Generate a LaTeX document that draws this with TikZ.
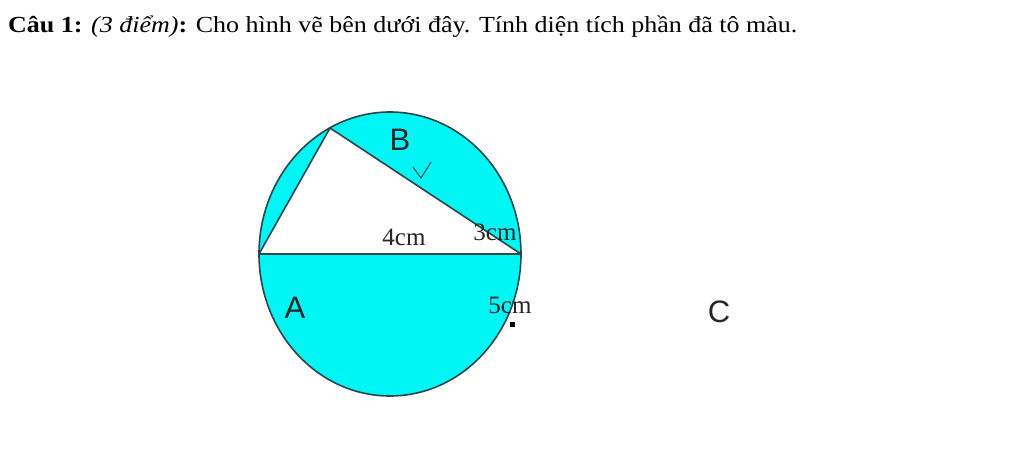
\documentclass[tikz,border=0pt]{standalone}
\usepackage{fontspec}
\setmainfont{Liberation Serif}
\newfontfamily\sansf{Liberation Sans}
\definecolor{cyanfill}{RGB}{0,245,245}
\definecolor{edge}{RGB}{40,70,75}
\begin{document}
\begin{tikzpicture}[x=1pt,y=-1pt,
  outline/.style={draw=edge,line width=1.6pt},
  letter/.style={font=\sansf\fontsize{31}{31}\selectfont,text=black!85,inner sep=0pt},
  dimlabel/.style={font=\fontsize{25}{25}\selectfont,text=black!85,inner sep=0pt,anchor=base}]
\useasboundingbox (0,0) rectangle (1024,469);
\node[anchor=base west,inner sep=0pt,font=\fontsize{23}{23}\selectfont] (title) at (8,32)
  {\scalebox{1.13}[1]{\textbf{Câu 1:} \textit{(3 điểm)}\textbf{:} Cho hình vẽ bên dưới đây. Tính diện tích phần đã tô màu.}};
\coordinate (O) at (390,254);
\coordinate (L) at (259,254);
\coordinate (R) at (521,254);
\coordinate (T) at (330,128);
\fill[cyanfill] (O) ellipse [x radius=131, y radius=142];
\fill[white] (L) -- (T) -- (R) -- cycle;
\draw[outline] (O) ellipse [x radius=131, y radius=142];
\draw[outline,line join=round] (L) -- (T) -- (R) -- cycle;
\coordinate (k1) at (413,167);
\coordinate (k2) at (421,178);
\coordinate (k3) at (431,162);
\draw[edge,line width=1pt] (k1) -- (k2) -- (k3);
\node[letter] (B) at (400,140) {B};
\node[letter] (A) at (295,308) {A};
\node[letter] (C) at (719,312) {C};
\node[dimlabel] (d4) at (404,245) {4cm};
\node[dimlabel] (d3) at (495,240) {3cm};
\node[dimlabel] (d5) at (510,313) {5cm};
\fill[black] (510,321.5) rectangle (515,326.5);
\end{tikzpicture}
\end{document}
